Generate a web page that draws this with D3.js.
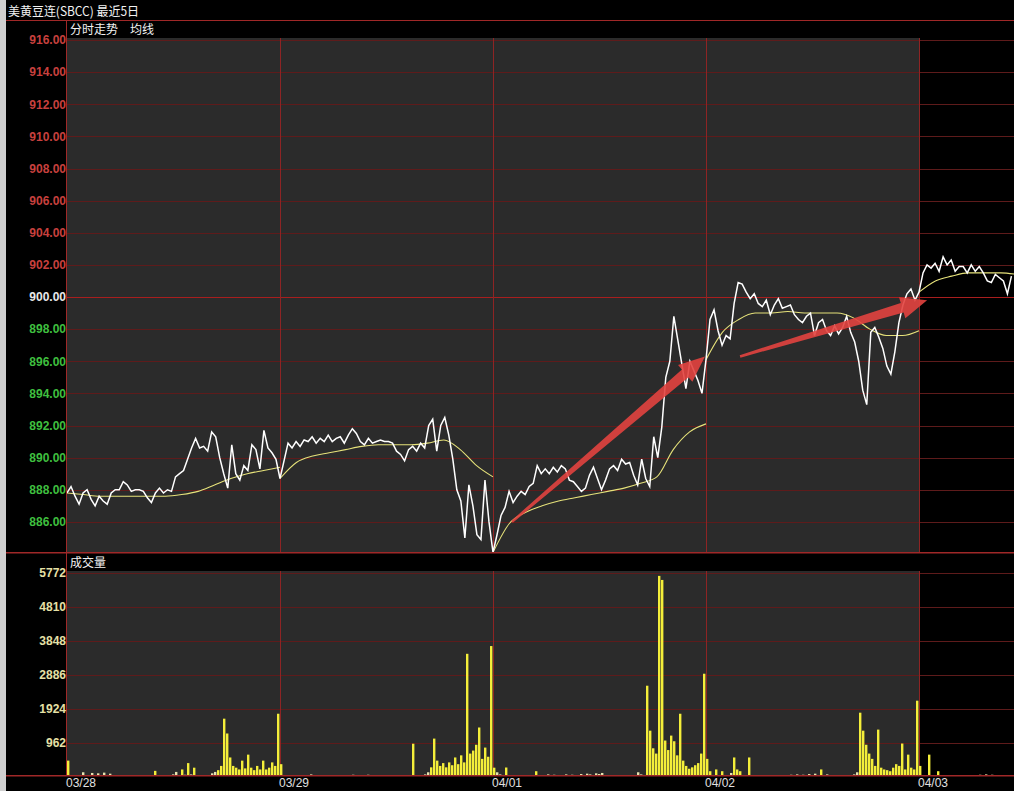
<!DOCTYPE html>
<html><head><meta charset="utf-8">
<script src="https://cdn.jsdelivr.net/npm/d3@7"></script>
<style>body{margin:0;background:#000;overflow:hidden}svg{display:block}</style>
</head><body><svg id="c" width="1014" height="791"></svg>
<script>
// ---------------- data ----------------
const titleText = "美黄豆连(SBCC) 最近5日";
const priceHeader = ["分时走势", "均线"];
const volHeader = "成交量";
const dayLabels = ["03/28", "03/29", "04/01", "04/02", "04/03"];
const priceTicks = [916, 914, 912, 910, 908, 906, 904, 902, 900, 898, 896, 894, 892, 890, 888, 886];
const refPrice = 900;
const volTicks = [5772, 4810, 3848, 2886, 1924, 962];

// price, sampled evenly through each session (53 per session)
const price0328 = [887.8, 888.2, 887.6, 887.1, 887.8, 888.0, 887.4, 887.0, 887.6, 887.3,
  887.1, 887.8, 888.0, 888.0, 888.5, 888.3, 887.9, 888.0, 888.0, 887.9,
  887.5, 887.2, 887.8, 888.1, 887.8, 888.0, 887.9, 888.8, 889.0, 889.2,
  889.9, 890.6, 891.2, 890.6, 890.7, 890.4, 891.6, 891.3, 890.0, 889.0,
  888.1, 890.8, 889.0, 888.6, 889.5, 889.2, 890.8, 890.5, 889.3, 891.7,
  890.6, 890.3, 889.9];
const price0329 = [888.7, 889.8, 890.9, 890.6, 891.0, 890.7, 891.1, 891.0, 891.3, 890.9,
  891.2, 891.0, 891.4, 891.0, 891.2, 891.3, 890.9, 891.4, 891.8, 891.5,
  891.0, 890.8, 891.2, 890.9, 891.0, 891.1, 891.0, 891.0, 890.9, 890.4,
  890.2, 889.8, 890.5, 890.7, 890.4, 890.9, 890.6, 892.0, 892.4, 890.4,
  892.0, 892.5, 891.4, 889.9, 888.0, 887.3, 885.0, 888.3, 887.0, 885.2,
  884.9, 888.6, 886.0];
const price0401 = [884.1, 885.2, 886.4, 886.9, 887.9, 887.2, 887.6, 887.9, 887.7, 888.2,
  888.4, 889.5, 889.0, 889.3, 889.0, 889.4, 889.1, 889.5, 889.3, 888.6,
  888.5, 888.2, 887.9, 888.1, 888.9, 889.4, 888.7, 888.0, 888.6, 889.3,
  889.5, 889.2, 889.9, 889.6, 889.7, 888.9, 888.3, 889.9, 888.7, 888.2,
  891.3, 890.0, 891.9, 895.0, 896.0, 898.8, 897.3, 895.8, 894.3, 896.0,
  895.4, 894.8, 894.0];
const price0402 = [896.1, 898.6, 899.2, 897.9, 897.0, 897.6, 897.4, 899.6, 900.9, 900.8,
  900.3, 899.9, 900.2, 899.6, 899.4, 899.8, 898.9, 899.5, 899.9, 899.3,
  899.4, 899.5, 898.9, 898.6, 898.4, 898.8, 899.0, 897.6, 898.4, 898.6,
  897.9, 897.6, 898.2, 897.7, 898.1, 898.8, 897.8, 897.2, 896.0, 894.2,
  893.3, 897.8, 898.1, 897.5, 896.8, 895.7, 895.2, 896.6, 898.4, 899.5,
  900.2, 900.5, 899.8];
const price0403 = [900.3, 901.5, 902.0, 901.8, 902.1, 901.6, 902.5, 902.0, 902.3, 901.6,
  901.9, 901.9, 901.5, 902.0, 901.6, 901.9, 901.5, 901.0, 900.9, 901.4,
  901.2, 901.0, 900.2, 901.3];
const priceSamplesPerDay = 53;

// session average line (14 readings per session)
const avg0328 = [887.8, 887.7, 887.6, 887.6, 887.6, 887.6, 887.6, 887.7, 887.9, 888.3, 888.7, 889.0, 889.2, 889.4];
const avg0329 = [888.7, 889.7, 890.1, 890.3, 890.5, 890.7, 890.8, 890.8, 890.8, 890.9, 891.1, 890.5, 889.5, 888.8];
const avg0401 = [884.1, 885.9, 886.6, 887.0, 887.3, 887.5, 887.7, 887.9, 888.1, 888.4, 888.8, 890.5, 891.6, 892.1];
const avg0402 = [896.1, 897.8, 898.6, 899.0, 899.0, 899.1, 899.0, 899.0, 899.0, 898.7, 898.0, 897.6, 897.6, 897.9];
const avg0403 = [900.3, 901.0, 901.3, 901.5, 901.5, 901.5, 901.4];
const avgSamplesPerDay = 13;

// volume (71 bars per session)
const vol0328 = [450, 0, 30, 0, 0, 120, 0, 40, 100, 0,
  90, 0, 110, 0, 80, 0, 0, 0, 0, 0,
  0, 0, 0, 0, 0, 0, 0, 0, 0, 160,
  0, 0, 0, 0, 0, 60, 130, 40, 200, 50,
  380, 60, 250, 0, 0, 0, 0, 40, 90, 130,
  180, 300, 1640, 1220, 540, 300, 250, 200, 450, 230,
  620, 250, 180, 300, 200, 450, 200, 250, 400, 300,
  1780];
const vol0329 = [350, 0, 0, 0, 0, 0, 0, 0, 0, 0,
  60, 0, 0, 0, 0, 0, 0, 0, 0, 0,
  0, 0, 0, 0, 50, 0, 40, 0, 30, 50,
  0, 0, 0, 0, 0, 0, 0, 0, 0, 0,
  0, 0, 0, 0, 930, 0, 40, 0, 60, 120,
  260, 1075, 450, 300, 380, 260, 400, 320, 540, 350,
  600, 400, 3480, 650, 735, 900, 1390, 500, 820, 560,
  3700];
const vol0401 = [250, 120, 60, 40, 255, 30, 0, 40, 0, 0,
  0, 0, 0, 0, 150, 0, 0, 0, 60, 0,
  50, 0, 40, 0, 60, 0, 50, 0, 0, 70,
  40, 80, 60, 0, 90, 70, 100, 0, 0, 0,
  0, 0, 0, 0, 0, 0, 0, 0, 120, 60,
  40, 2575, 1300, 800, 650, 5690, 5575, 1020, 750, 1160,
  1000, 600, 1780, 450, 300, 220, 260, 320, 380, 650,
  2915];
const vol0402 = [500, 150, 0, 200, 0, 150, 0, 0, 100, 540,
  200, 150, 0, 0, 540, 0, 40, 0, 0, 0,
  0, 0, 0, 0, 0, 0, 40, 0, 50, 0,
  60, 0, 50, 0, 70, 0, 80, 0, 200, 0,
  60, 0, 0, 0, 0, 0, 0, 0, 40, 60,
  120, 1810, 1300, 900, 650, 500, 300, 1330, 250, 200,
  180, 150, 250, 350, 300, 935, 200, 620, 250, 200,
  2150];
const vol0403 = [300, 0, 0, 620, 0, 0, 150, 0, 0, 0,
  0, 0, 0, 40, 0, 0, 0, 0, 0, 0,
  50, 0, 60, 0, 50, 0, 0, 0, 0, 0, 0, 0];
const volSamplesPerDay = 71;

// hand-drawn red arrows (session index, price)
const arrowStarts = [[2.089, 886.0], [3.160, 896.3]];
const arrowEnds = [[2.995, 896.3], [4.038, 899.8]];

// ---------------- layout ----------------
const W = 1014, H = 791;
const L = 67, grayR = 919;
const titleLineY = 20, pTop = 38, pBot = 552, vTop = 571, vBot = 775;

const svg = d3.select("#c");
const x = d3.scaleLinear().domain([0, 4]).range([L, grayR]);
const y = d3.scaleLinear().domain([884, 916]).range([554, 40]);
const yv = d3.scaleLinear().domain([0, 5772]).range([776.5, 573]);

const gridCol = "#5e1b1b", lineCol = "#8e2424";
svg.append("rect").attr("width", W).attr("height", H).attr("fill", "#000");
// left window strip
svg.append("rect").attr("x", 0).attr("y", 0).attr("width", 6).attr("height", H).attr("fill", "#cfcfcf");

// panels
svg.append("rect").attr("x", L).attr("y", pTop).attr("width", grayR - L).attr("height", pBot - pTop).attr("fill", "#2b2b2b");
svg.append("rect").attr("x", L).attr("y", vTop).attr("width", grayR - L).attr("height", vBot - vTop).attr("fill", "#2b2b2b");

// horizontal price grid (1px rects)
svg.append("g").selectAll("rect").data(priceTicks).join("rect")
  .attr("x", L).attr("width", W - L).attr("y", d => Math.round(y(d))).attr("height", 1)
  .attr("fill", d => d === refPrice ? "#a81e1e" : gridCol);
// horizontal volume grid
svg.append("g").selectAll("rect").data(volTicks).join("rect")
  .attr("x", L).attr("width", W - L).attr("y", d => Math.round(yv(d))).attr("height", 1)
  .attr("fill", gridCol);

// day separators
const seps = [1, 2, 3, 4];
[[pTop, pBot], [vTop, vBot]].forEach(([a, b]) => {
  svg.append("g").selectAll("rect").data(seps).join("rect")
    .attr("x", d => Math.round(x(d))).attr("width", 1)
    .attr("y", a).attr("height", b - a).attr("fill", lineCol);
});

// frame lines
const frame = svg.append("g").attr("fill", "#a02828");
frame.append("rect").attr("x", 6).attr("width", W - 6).attr("y", titleLineY).attr("height", 1);
frame.append("rect").attr("x", 6).attr("width", W - 6).attr("y", pBot).attr("height", 1.5);
frame.append("rect").attr("x", 6).attr("width", W - 6).attr("y", vBot).attr("height", 1.5);
frame.append("rect").attr("x", L - 1).attr("width", 1).attr("y", titleLineY).attr("height", vBot - titleLineY);

// clip
svg.append("clipPath").attr("id", "pc").append("rect").attr("x", L).attr("y", pTop).attr("width", W - L).attr("height", pBot - pTop);
svg.append("clipPath").attr("id", "vc").append("rect").attr("x", L).attr("y", vTop).attr("width", W - L).attr("height", vBot - vTop);

// volume bars
const volDays = [vol0328, vol0329, vol0401, vol0402, vol0403];
const bars = [];
volDays.forEach((arr, d) => arr.forEach((v, i) => { if (v > 0) bars.push({ t: d + i / volSamplesPerDay, v }); }));
svg.append("g").attr("clip-path", "url(#vc)").selectAll("rect").data(bars).join("rect")
  .attr("x", b => x(b.t)).attr("width", 2.4)
  .attr("y", b => yv(b.v)).attr("height", b => vBot - yv(b.v))
  .attr("fill", b => b.v > 140 ? "#f4ee3a" : "#e8e4b0");

// average lines
const avgDays = [avg0328, avg0329, avg0401, avg0402, avg0403];
const gP = svg.append("g").attr("clip-path", "url(#pc)");
const avgLine = d3.line().x(p => x(p.t)).y(p => y(p.v)).curve(d3.curveMonotoneX);
avgDays.forEach((arr, d) => {
  const pts = arr.map((v, i) => ({ t: d + i / avgSamplesPerDay, v }));
  gP.append("path").attr("d", avgLine(pts))
    .attr("fill", "none").attr("stroke", "#e6e27a").attr("stroke-width", 1.1);
});

// price line
const priceDays = [price0328, price0329, price0401, price0402, price0403];
const ppts = [];
priceDays.forEach((arr, d) => arr.forEach((v, i) => ppts.push({ t: d + i / priceSamplesPerDay, v })));
gP.append("path").attr("d", d3.line().x(p => x(p.t)).y(p => y(p.v))(ppts))
  .attr("fill", "none").attr("stroke", "#ffffff").attr("stroke-width", 1.5).attr("stroke-linejoin", "miter");

// arrows
function arrowPath(p0, p1, w0, w1, hl, hw) {
  const x0 = x(p0[0]), y0 = y(p0[1]), x1 = x(p1[0]), y1 = y(p1[1]);
  const dx = x1 - x0, dy = y1 - y0, len = Math.hypot(dx, dy), ux = dx / len, uy = dy / len, nx = -uy, ny = ux;
  const bx = x1 - ux * hl, by = y1 - uy * hl;
  const pts = [[x0 + nx * w0 / 2, y0 + ny * w0 / 2], [bx + nx * w1 / 2, by + ny * w1 / 2], [bx + nx * hw / 2, by + ny * hw / 2],
    [x1, y1], [bx - nx * hw / 2, by - ny * hw / 2], [bx - nx * w1 / 2, by - ny * w1 / 2], [x0 - nx * w0 / 2, y0 - ny * w0 / 2]];
  return "M" + pts.map(p => p.join(",")).join("L") + "Z";
}
arrowStarts.forEach((s, k) => {
  svg.append("path").attr("d", arrowPath(s, arrowEnds[k], 2.5, 10, 26, 22))
    .attr("fill", "#e2423f").attr("fill-opacity", 0.9);
});

// texts
const cjk = "'Noto Sans CJK SC', 'Noto Sans', sans-serif";
const num = "'Liberation Sans', Arial, sans-serif";
svg.append("text").attr("x", 8).attr("y", 16).attr("fill", "#f2f2f2").attr("font-family", cjk).attr("font-size", 12.5)
  .attr("textLength", 131).attr("lengthAdjust", "spacingAndGlyphs").text(titleText);
svg.append("text").attr("x", 70).attr("y", 34).attr("fill", "#f2f2f2").attr("font-family", cjk).attr("font-size", 12).text(priceHeader[0]);
svg.append("text").attr("x", 130).attr("y", 34).attr("fill", "#f2f2f2").attr("font-family", cjk).attr("font-size", 12).text(priceHeader[1]);
svg.append("text").attr("x", 70).attr("y", 567).attr("fill", "#f2f2f2").attr("font-family", cjk).attr("font-size", 12).text(volHeader);

svg.append("g").selectAll("text").data(priceTicks).join("text")
  .attr("x", 66).attr("y", d => y(d)).attr("dy", "0.36em").attr("text-anchor", "end")
  .attr("font-family", num).attr("font-size", 12).attr("font-weight", "bold")
  .attr("fill", d => d > refPrice ? "#c8403e" : d === refPrice ? "#e8e8e8" : "#3fbf3f")
  .text(d => d.toFixed(2));
svg.append("g").selectAll("text").data(volTicks).join("text")
  .attr("x", 66).attr("y", d => yv(d)).attr("dy", "0.36em").attr("text-anchor", "end")
  .attr("font-family", num).attr("font-size", 12).attr("font-weight", "bold").attr("fill", "#e6e0a6")
  .text(d => d);
svg.append("g").selectAll("text").data(dayLabels).join("text")
  .attr("x", (d, i) => x(i) - 1).attr("y", 787).attr("fill", "#e0e0e0")
  .attr("font-family", num).attr("font-size", 12).text(d => d);
</script></body></html>
